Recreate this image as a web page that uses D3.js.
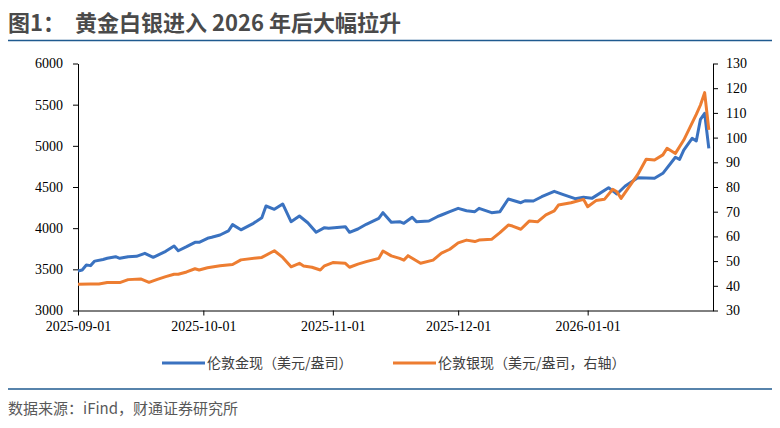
<!DOCTYPE html>
<html lang="zh">
<head>
    <meta charset="UTF-8">
    <title>黄金白银</title>
    <script src="https://cdnjs.cloudflare.com/ajax/libs/d3/7.8.5/d3.min.js"></script>
    <style type="text/css">
        body {
            margin: 0;
            background: #fff;
        }
        .axis path, .axis line {
            stroke: #000;
        }
    </style>
</head>
<body>
<div class="container"></div>
</body>
<script>
    const goldDates = [
        '2025-09-01', '2025-09-02', '2025-09-03', '2025-09-04', '2025-09-05', '2025-09-07', '2025-09-08',
        '2025-09-10', '2025-09-11', '2025-09-13', '2025-09-15', '2025-09-17', '2025-09-19', '2025-09-20',
        '2025-09-22', '2025-09-24', '2025-09-25', '2025-09-27', '2025-09-29', '2025-09-30', '2025-10-02',
        '2025-10-03', '2025-10-05', '2025-10-07', '2025-10-08', '2025-10-10', '2025-10-13', '2025-10-15',
        '2025-10-16', '2025-10-18', '2025-10-20', '2025-10-22', '2025-10-24', '2025-10-26', '2025-10-28',
        '2025-10-30', '2025-10-31', '2025-11-04', '2025-11-05', '2025-11-07', '2025-11-09', '2025-11-12',
        '2025-11-13', '2025-11-15', '2025-11-17', '2025-11-18', '2025-11-20', '2025-11-21', '2025-11-24',
        '2025-11-26', '2025-11-27', '2025-11-29', '2025-12-01', '2025-12-03', '2025-12-05', '2025-12-06',
        '2025-12-09', '2025-12-11', '2025-12-13', '2025-12-16', '2025-12-17', '2025-12-19', '2025-12-21',
        '2025-12-24', '2025-12-26', '2025-12-29', '2025-12-31', '2026-01-02', '2026-01-06', '2026-01-08',
        '2026-01-10', '2026-01-13', '2026-01-17', '2026-01-19', '2026-01-22', '2026-01-23', '2026-01-24',
        '2026-01-26', '2026-01-27', '2026-01-28', '2026-01-29', '2026-01-30'
    ];
    const goldPrices = [
        3480, 3492, 3552, 3545, 3600, 3620, 3634,
        3654, 3634, 3654, 3658, 3694, 3646, 3670,
        3719, 3783, 3726, 3775, 3828, 3828, 3877,
        3889, 3917, 3966, 4043, 3980, 4059, 4127,
        4269, 4229, 4294, 4079, 4148, 4066, 3950,
        4006, 3998, 4018, 3950, 3990, 4047, 4120,
        4188, 4071, 4079, 4059, 4132, 4079, 4087,
        4139, 4160, 4200, 4241, 4212, 4200, 4241,
        4188, 4200, 4354, 4309, 4333, 4330, 4382,
        4447, 4410, 4358, 4375, 4362, 4492, 4415,
        4512, 4613, 4606, 4666, 4861, 4836, 4949,
        5091, 5059, 5322, 5395, 4970
    ];

    const silverDates = [
        '2025-09-01', '2025-09-04', '2025-09-06', '2025-09-08', '2025-09-11', '2025-09-13', '2025-09-16',
        '2025-09-18', '2025-09-20', '2025-09-22', '2025-09-24', '2025-09-25', '2025-09-27', '2025-09-29',
        '2025-09-30', '2025-10-02', '2025-10-05', '2025-10-08', '2025-10-10', '2025-10-15', '2025-10-18',
        '2025-10-20', '2025-10-22', '2025-10-24', '2025-10-25', '2025-10-27', '2025-10-29', '2025-10-30',
        '2025-11-01', '2025-11-04', '2025-11-05', '2025-11-07', '2025-11-09', '2025-11-12', '2025-11-13',
        '2025-11-15', '2025-11-17', '2025-11-18', '2025-11-19', '2025-11-22', '2025-11-25', '2025-11-27',
        '2025-11-29', '2025-12-01', '2025-12-03', '2025-12-05', '2025-12-06', '2025-12-09', '2025-12-11',
        '2025-12-13', '2025-12-14', '2025-12-16', '2025-12-18', '2025-12-20', '2025-12-22', '2025-12-24',
        '2025-12-25', '2025-12-28', '2025-12-31', '2026-01-01', '2026-01-03', '2026-01-05', '2026-01-07',
        '2026-01-08', '2026-01-09', '2026-01-13', '2026-01-15', '2026-01-17', '2026-01-19', '2026-01-20',
        '2026-01-22', '2026-01-24', '2026-01-27', '2026-01-28', '2026-01-29', '2026-01-30'
    ];
    const silverPrices = [
        40.6, 40.7, 40.7, 41.3, 41.3, 42.5, 42.8,
        41.4, 42.6, 43.7, 44.7, 44.7, 45.6, 46.9,
        46.4, 47.3, 48.1, 48.6, 50.5, 51.5, 54.2,
        51.5, 47.7, 49.1, 48.0, 47.5, 46.4, 48.1,
        49.4, 49.1, 47.5, 48.8, 49.8, 51.1, 54.1,
        52.1, 51.1, 50.4, 52.2, 49.1, 50.4, 53.2,
        54.8, 57.4, 58.5, 57.9, 58.5, 58.8, 61.5,
        64.6, 64.2, 62.9, 66.2, 65.9, 68.7, 70.3,
        72.7, 73.6, 75.0, 72.0, 74.5, 75.0, 79.1,
        78.1, 75.4, 85.1, 91.2, 90.9, 93.0, 95.7,
        93.6, 99.0, 109.4, 113.2, 118.2, 103.1
    ];

    const xTickDates = ['2025-09-01', '2025-10-01', '2025-11-01', '2025-12-01', '2026-01-01'];
    const leftTicks = [3000, 3500, 4000, 4500, 5000, 5500, 6000];
    const rightTicks = [30, 40, 50, 60, 70, 80, 90, 100, 110, 120, 130];
    const seriesNames = ['伦敦金现（美元/盎司）', '伦敦银现（美元/盎司，右轴）'];
    const colors = ['#3a72c0', '#ed7d31'];

    const parse = d3.timeParse('%Y-%m-%d');
    const gold = goldDates.map((d, i) => ({x: parse(d), y: goldPrices[i]}));
    const silver = silverDates.map((d, i) => ({x: parse(d), y: silverPrices[i]}));

    const serif = '"Liberation Serif", "Times New Roman", serif';
    const cjk = '"Noto Sans CJK SC", sans-serif';

    const svg = d3.select('.container')
        .append('svg')
        .attr('width', 780)
        .attr('height', 428);

    // title + rule
    svg.append('text')
        .attr('x', 8)
        .attr('y', 31)
        .attr('font-family', cjk)
        .attr('font-size', 22)
        .attr('font-weight', 'bold')
        .attr('fill', '#4a4a4a')
        .attr('xml:space', 'preserve')
        .text('图1：  黄金白银进入 2026 年后大幅拉升');

    svg.append('line')
        .attr('x1', 8).attr('x2', 772)
        .attr('y1', 40.5).attr('y2', 40.5)
        .attr('stroke', '#1f5a8f')
        .attr('stroke-width', 1.5);

    const plotLeft = 78, plotRight = 713, plotTop = 63.5, plotBottom = 310.5;

    const xScale = d3.scaleTime()
        .domain([parse('2025-09-01'), parse('2026-01-31')])
        .range([plotLeft, plotRight]);

    const yLeft = d3.scaleLinear()
        .domain([3000, 6000])
        .range([plotBottom, plotTop]);

    const yRight = d3.scaleLinear()
        .domain([30, 130])
        .range([plotBottom, plotTop]);

    const styleAxis = g => g
        .attr('font-family', serif)
        .attr('font-size', 14)
        .call(s => s.selectAll('text').attr('fill', '#000'));

    svg.append('g')
        .attr('class', 'axis x')
        .attr('transform', 'translate(0,' + plotBottom + ')')
        .call(d3.axisBottom(xScale)
            .tickValues(xTickDates.map(parse))
            .tickFormat(d3.timeFormat('%Y-%m-%d'))
            .tickSize(5)
            .tickSizeOuter(0)
            .tickPadding(6))
        .call(styleAxis);

    svg.append('g')
        .attr('class', 'axis y')
        .attr('transform', 'translate(' + plotLeft + ',0)')
        .call(d3.axisLeft(yLeft)
            .tickValues(leftTicks)
            .tickFormat(d3.format('d'))
            .tickSize(5)
            .tickSizeOuter(0)
            .tickPadding(10))
        .call(styleAxis);

    svg.append('g')
        .attr('class', 'axis y2')
        .attr('transform', 'translate(' + plotRight + ',0)')
        .call(d3.axisRight(yRight)
            .tickValues(rightTicks)
            .tickFormat(d3.format('d'))
            .tickSize(5)
            .tickSizeOuter(0)
            .tickPadding(8))
        .call(styleAxis);

    const goldLine = d3.line()
        .x(d => xScale(d.x))
        .y(d => yLeft(d.y));

    const silverLine = d3.line()
        .x(d => xScale(d.x))
        .y(d => yRight(d.y));

    svg.append('path')
        .attr('fill', 'none')
        .attr('stroke', colors[0])
        .attr('stroke-width', 3)
        .attr('stroke-linejoin', 'round')
        .attr('d', goldLine(gold));

    svg.append('path')
        .attr('fill', 'none')
        .attr('stroke', colors[1])
        .attr('stroke-width', 3)
        .attr('stroke-linejoin', 'round')
        .attr('d', silverLine(silver));

    // legend
    const legend = svg.selectAll('g.legend')
        .data(seriesNames)
        .enter()
        .append('g')
        .attr('class', 'legend')
        .attr('transform', (d, i) => 'translate(' + [162, 393][i] + ',363)');

    legend.append('line')
        .attr('x1', 0).attr('x2', 43)
        .attr('stroke', (d, i) => colors[i])
        .attr('stroke-width', 3);

    legend.append('text')
        .attr('x', 45)
        .attr('y', 5)
        .attr('font-family', cjk)
        .attr('font-size', 14)
        .attr('fill', '#404040')
        .text(d => d);

    // footer
    svg.append('line')
        .attr('x1', 8).attr('x2', 772)
        .attr('y1', 389).attr('y2', 389)
        .attr('stroke', '#1f5a8f')
        .attr('stroke-width', 1.5);

    svg.append('text')
        .attr('x', 8)
        .attr('y', 414)
        .attr('font-family', cjk)
        .attr('font-size', 15)
        .attr('fill', '#595959')
        .text('数据来源：iFind，财通证券研究所');
</script>
</html>
